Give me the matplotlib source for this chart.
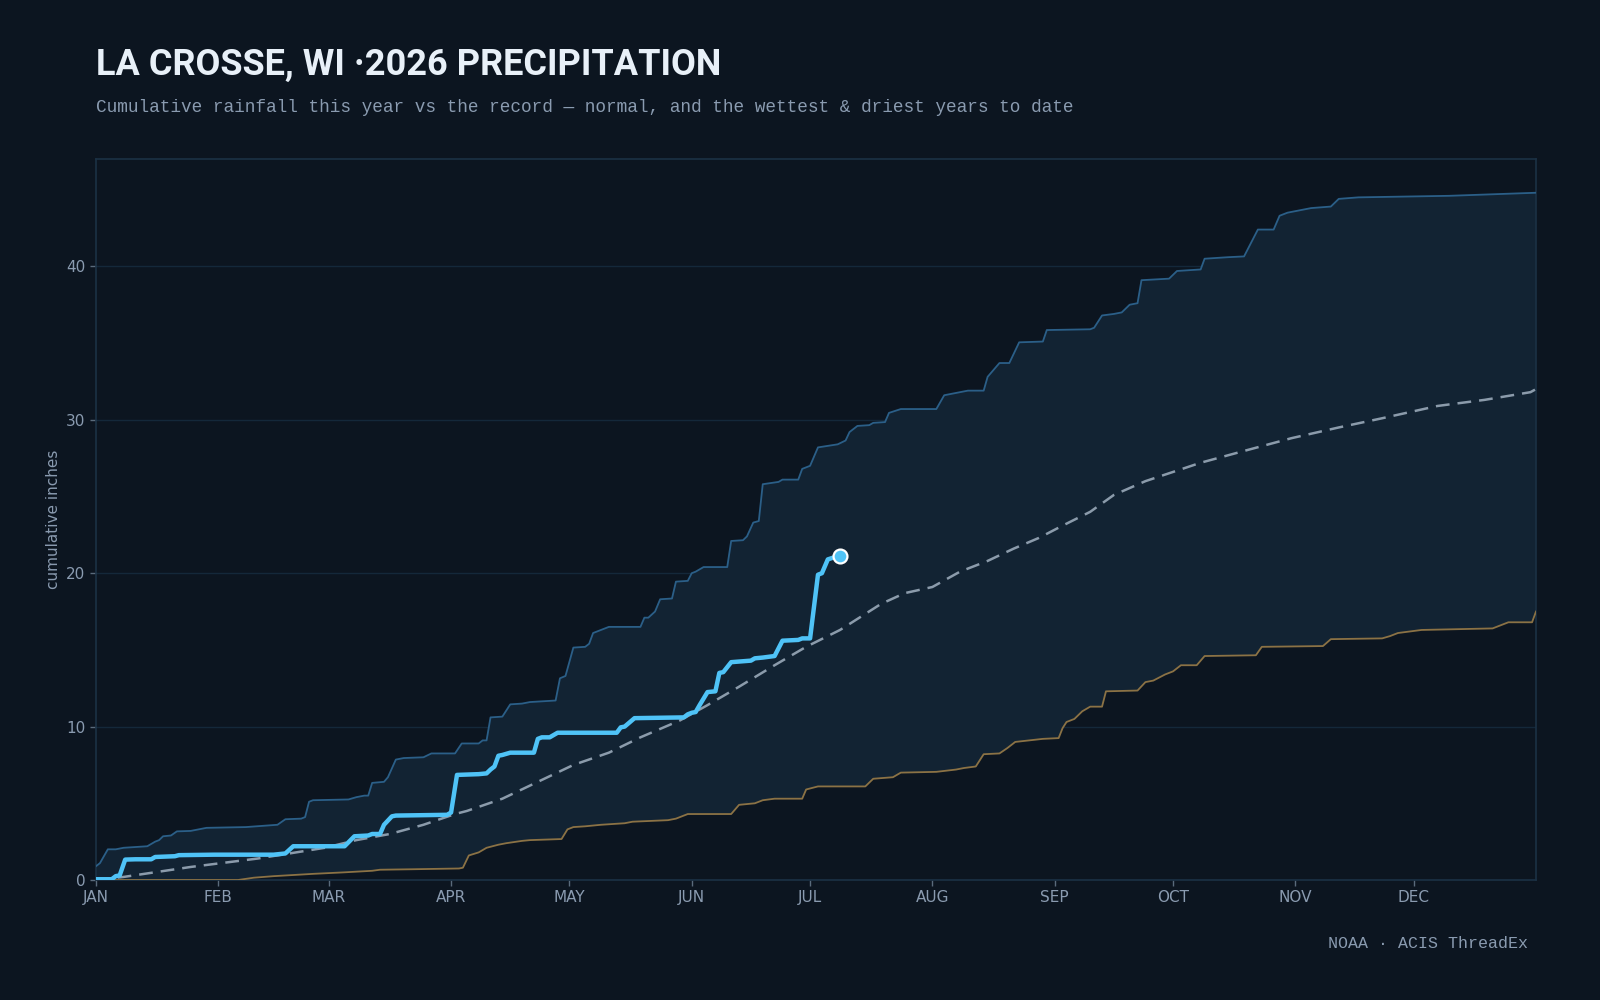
import numpy as np
import matplotlib
matplotlib.use("Agg")
import matplotlib.pyplot as plt

# day-of-year breakpoints (inches, cumulative)
wet_day = [0, 1, 3, 5, 7, 13, 15, 16, 17, 19, 20.5, 24, 28, 38, 46, 48, 52, 53, 54, 55,
           64, 66, 68, 69, 70, 73, 74, 76, 78, 83, 85, 91, 92.7, 97, 98, 99, 100, 103,
           105, 108, 110, 116.5, 117.6, 119, 121, 124, 125, 126, 128, 130, 138, 139, 140,
           141.7, 143, 146, 147, 150, 151, 152, 154, 160, 161, 164, 165, 166.6, 168, 169,
           173, 174, 178, 179, 181, 183, 188, 190, 191, 193, 196, 197, 200, 201, 204, 213,
           215, 221, 225, 226, 229, 231.5, 234, 240, 241, 252, 253, 255, 258, 260, 262,
           264, 265, 272, 274, 280, 281, 287, 291, 294.5, 298.5, 300, 302, 308, 313, 315,
           320, 343, 354, 365]
wet_val = [0.9, 1.1, 2.0, 2.0, 2.1, 2.2, 2.5, 2.6, 2.85, 2.9, 3.17, 3.2, 3.4, 3.45, 3.6,
           3.96, 4.0, 4.1, 5.1, 5.2, 5.25, 5.4, 5.5, 5.5, 6.33, 6.4, 6.7, 7.85, 7.95, 8.0,
           8.25, 8.25, 8.9, 8.9, 9.1, 9.1, 10.6, 10.65, 11.45, 11.5, 11.6, 11.7, 13.15,
           13.3, 15.15, 15.2, 15.4, 16.1, 16.3, 16.5, 16.5, 17.1, 17.1, 17.5, 18.3, 18.35,
           19.45, 19.5, 20.0, 20.1, 20.4, 20.4, 22.1, 22.15, 22.4, 23.3, 23.4, 25.8, 25.95,
           26.1, 26.1, 26.8, 27.0, 28.2, 28.4, 28.65, 29.2, 29.6, 29.65, 29.8, 29.85, 30.45,
           30.7, 30.7, 31.6, 31.9, 31.9, 32.8, 33.7, 33.7, 35.05, 35.1, 35.85, 35.9, 36.0,
           36.8, 36.9, 37.0, 37.5, 37.6, 39.1, 39.2, 39.7, 39.8, 40.5, 40.6, 40.65, 42.4,
           42.4, 43.3, 43.5, 43.8, 43.9, 44.4, 44.5, 44.6, 44.7, 44.8]

dry_day = [0, 36, 40, 45, 55, 63, 70, 72, 80, 92, 93, 94.5, 97, 99, 102, 104, 108, 110,
           118, 119.5, 121, 124, 128, 134, 136, 145, 147, 150, 161, 163, 167, 169, 172,
           179, 180, 183, 195, 197, 202, 204, 213, 218, 220, 223, 225, 229, 231, 233, 240,
           244, 245, 246, 248, 250, 252, 255, 256, 264, 266, 268, 271, 273, 275, 279, 281,
           294, 295.5, 311, 313, 326, 328, 330, 336, 354, 358, 364, 365]
dry_val = [0, 0, 0.15, 0.25, 0.4, 0.5, 0.6, 0.67, 0.7, 0.75, 0.8, 1.6, 1.8, 2.1, 2.3, 2.4,
           2.55, 2.6, 2.67, 3.3, 3.45, 3.5, 3.6, 3.7, 3.8, 3.9, 4.0, 4.3, 4.3, 4.9, 5.0,
           5.2, 5.3, 5.3, 5.9, 6.1, 6.1, 6.6, 6.7, 7.0, 7.05, 7.2, 7.3, 7.4, 8.2, 8.25, 8.6,
           9.0, 9.2, 9.25, 9.9, 10.3, 10.5, 11.0, 11.3, 11.3, 12.3, 12.35, 12.9, 13.0, 13.4,
           13.6, 14.0, 14.0, 14.6, 14.65, 15.2, 15.25, 15.7, 15.75, 15.9, 16.1, 16.3, 16.4,
           16.8, 16.8, 17.5]

normal_day = [0, 7, 24, 41, 58, 66, 74.5, 83, 91, 94, 103, 112, 121, 130, 138, 148, 155,
              163, 172, 180, 188.6, 199, 205, 212, 219, 226, 232.6, 239, 245, 252, 258,
              266, 273, 280, 290, 303, 315, 326, 340, 352, 363.6, 365]
normal_val = [0, 0.2, 0.85, 1.4, 2.1, 2.6, 3.0, 3.6, 4.3, 4.5, 5.3, 6.4, 7.5, 8.3, 9.3,
              10.4, 11.4, 12.6, 14.0, 15.2, 16.3, 18.0, 18.7, 19.1, 20.1, 20.8, 21.6, 22.3,
              23.1, 24.0, 25.1, 26.0, 26.6, 27.2, 27.9, 28.8, 29.5, 30.1, 30.9, 31.3, 31.8,
              32.0]

this_day = [0, 4, 5, 6, 7.4, 10, 14, 15, 20, 21, 30, 45, 48, 50, 63, 65.5, 69, 70, 72, 73,
            75, 76, 89, 90, 91.5, 97, 99, 100, 101, 102, 103, 105, 111, 112, 113, 115, 117,
            132, 133, 134, 136.5, 149, 150, 151, 152, 153, 155, 157, 158, 159, 161, 166,
            167, 169, 172, 174, 178, 179, 181, 183, 184, 185.5, 188.5]
this_val = [0.05, 0.05, 0.25, 0.3, 1.33, 1.35, 1.35, 1.5, 1.55, 1.62, 1.65, 1.65, 1.73,
            2.2, 2.2, 2.85, 2.9, 3.0, 3.0, 3.6, 4.15, 4.2, 4.25, 4.4, 6.85, 6.9, 6.95, 7.2,
            7.4, 8.1, 8.15, 8.3, 8.3, 9.2, 9.3, 9.3, 9.6, 9.6, 9.95, 10.0, 10.55, 10.6, 10.8,
            10.9, 10.95, 11.4, 12.25, 12.3, 13.5, 13.55, 14.2, 14.3, 14.45, 14.5, 14.6, 15.6,
            15.65, 15.75, 15.75, 19.9, 20.0, 20.9, 21.15]

months = ["JAN", "FEB", "MAR", "APR", "MAY", "JUN", "JUL", "AUG", "SEP", "OCT", "NOV", "DEC"]
month_start = [0, 31, 59, 90, 120, 151, 181, 212, 243, 273, 304, 334]
y_ticks = [0, 10, 20, 30, 40]

BG = "#0c1520"
MUTED = "#8a9bb0"

fig = plt.figure(figsize=(16, 10), dpi=100, facecolor=BG)
ax = fig.add_axes([0.06, 0.12, 0.90, 0.721])
ax.set_facecolor(BG)

# record band
ax.fill(np.concatenate([wet_day, dry_day[::-1]]),
        np.concatenate([wet_val, dry_val[::-1]]),
        color="#122333", lw=0, zorder=1)
ax.plot(wet_day, wet_val, color="#2b5f88", lw=1.3, zorder=3)
ax.plot(dry_day, dry_val, color="#8b7245", lw=1.3, zorder=3)
ax.plot(normal_day, normal_val, color="#8b9bab", lw=1.8, dashes=(5.5, 3.2), zorder=4)
ax.plot(this_day, this_val, color="#4fc3f7", lw=3.2, solid_capstyle="round",
        solid_joinstyle="round", zorder=5)
ax.plot(this_day[-1], this_val[-1], "o", ms=10, mfc="#4fc3f7", mec="white", mew=1.6,
        zorder=6)

ax.set_xlim(0, 365)
ax.set_ylim(0, 47)
ax.set_xticks(month_start)
ax.set_xticklabels(months)
ax.set_yticks(y_ticks)
ax.tick_params(colors=MUTED, labelsize=11, length=4, width=1, color="#5a6b7c")
ax.grid(axis="y", color="#14283a", lw=1)
ax.set_axisbelow(True)
for s in ax.spines.values():
    s.set_color("#1b3145")
    s.set_linewidth(1.2)
ax.set_ylabel("cumulative inches", color=MUTED, fontsize=11, labelpad=4)

fig.text(0.06, 0.935, "LA CROSSE, WI ·2026 PRECIPITATION",
         family=["Roboto", "DejaVu Sans"], fontweight="bold",
         fontsize=26, color="#e8f0f8", va="center")
fig.text(0.06, 0.892,
         "Cumulative rainfall this year vs the record — normal, and the wettest & driest years to date",
         family=["Liberation Mono", "DejaVu Sans Mono"], fontsize=12.8, color=MUTED,
         va="center")
fig.text(0.955, 0.056, "NOAA · ACIS ThreadEx", family=["Liberation Mono", "DejaVu Sans Mono"],
         fontsize=12, color=MUTED, ha="right", va="center")

fig.savefig("out.png", dpi=100, facecolor=BG)
